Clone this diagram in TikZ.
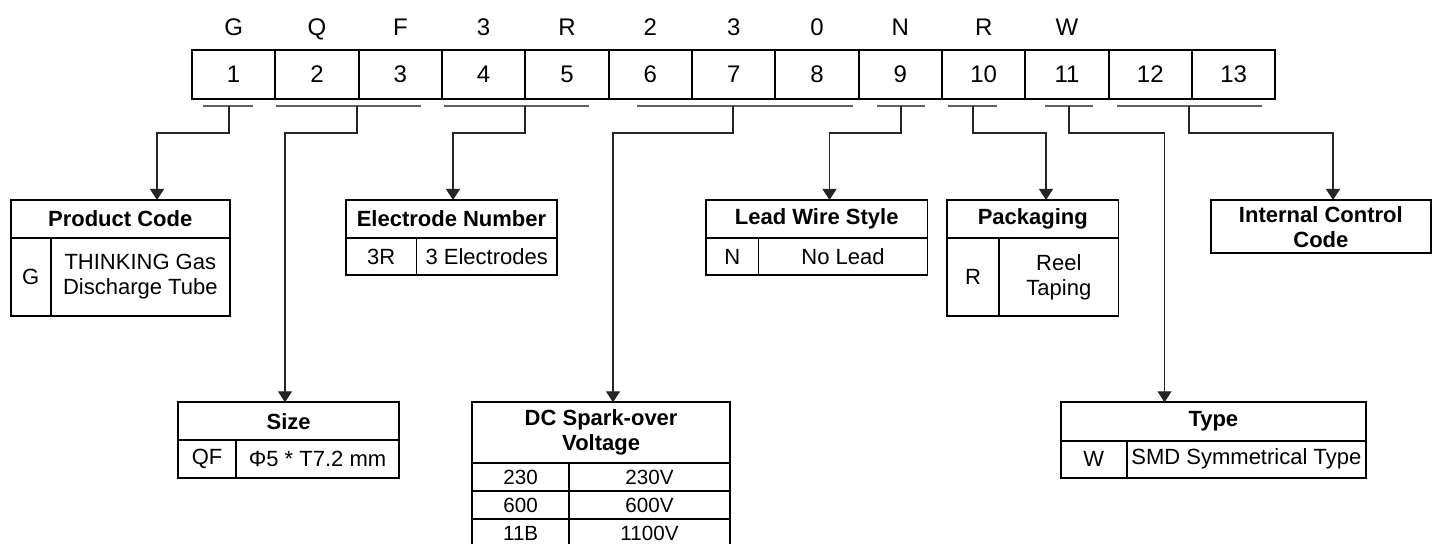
\documentclass[tikz,border=0pt]{standalone}
\usepackage{fontspec}
\setmainfont{Liberation Sans}
\usetikzlibrary{arrows.meta,calc}
\tikzset{
  wh/.style 2 args={minimum width=#1*0.5pt, minimum height=#2*0.5pt},
  tb/.style={draw=black, line width=0.85pt, inner sep=0pt, outer sep=0pt, anchor=north west,
    font=\fontsize{11}{12.5}\selectfont, align=center},
  th/.style={tb, font=\fontsize{11}{12.5}\selectfont\bfseries},
  tbs/.style={tb, font=\fontsize{10.3}{12}\selectfont},
  dig/.style={draw=black, line width=0.85pt, inner sep=0pt, outer sep=0pt, anchor=north west,
    minimum width=41.667pt, minimum height=24.5pt, font=\fontsize{12}{14}\selectfont},
  let/.style={inner sep=0pt, anchor=base, font=\fontsize{12}{14}\selectfont},
  ul/.style={draw=black!62, line width=0.7pt},
  conn/.style={draw=black!85, line width=0.55pt, -{Triangle[width=7pt,length=5.5pt]}},
}
\begin{document}
\begin{tikzpicture}[x=0.5pt,y=-0.5pt]
\useasboundingbox (0,0) rectangle (1434,544);

% top code row
\foreach \i in {1,...,13}
  \node[dig] (c\i) at ({192+(\i-1)*83.333},50) {\i};
\foreach \i/\l in {1/G,2/Q,3/F,4/3,5/R,6/2,7/3,8/0,9/N,10/R,11/W}
  \node[let] (l\i) at ($(c\i.north)+(0,-14.5)$) {\l};

% underlines
\coordinate (u1a) at (203,106);  \coordinate (u1b) at (253,106);  \coordinate (t1) at (229,106);
\coordinate (u2a) at (276,106);  \coordinate (u2b) at (421,106);  \coordinate (t2) at (357,106);
\coordinate (u3a) at (444,106);  \coordinate (u3b) at (589,106);  \coordinate (t3) at (525,106);
\coordinate (u4a) at (637,106);  \coordinate (u4b) at (853,106);  \coordinate (t4) at (733,106);
\coordinate (u5a) at (877,106);  \coordinate (u5b) at (925,106);  \coordinate (t5) at (901,106);
\coordinate (u6a) at (948,106);  \coordinate (u6b) at (997,106);  \coordinate (t6) at (973,106);
\coordinate (u7a) at (1045,106); \coordinate (u7b) at (1093,106); \coordinate (t7) at (1069,106);
\coordinate (u8a) at (1117,106); \coordinate (u8b) at (1262,106); \coordinate (t8) at (1189,106);
\foreach \k in {1,...,8} \draw[ul] (u\k a) -- (u\k b);

% Product Code
\node[th, wh={219}{38}] (pch) at (10.7,200) {Product Code};
\node[tb, wh={40.2}{78}] (pck) at (pch.south west) {G};
\node[tb, wh={178.8}{78}] (pcv) at (pck.north east) {THINKING Gas\\Discharge Tube};

% Electrode Number
\node[th, wh={211}{38}] (elh) at (346,200) {Electrode Number};
\node[tb, wh={70.4}{37}] (elk) at (elh.south west) {3R};
\node[tb, wh={140.6}{37}] (elv) at (elk.north east) {3 Electrodes};

% Lead Wire Style
\node[th, wh={221.5}{38}] (lwh) at (706,200) {Lead Wire Style};
\node[tb, wh={52.6}{37}] (lwk) at (lwh.south west) {N};
\node[tb, wh={168.9}{37}] (lwv) at (lwk.north east) {No Lead};

% Packaging
\node[th, wh={171.6}{38}] (pgh) at (947,200) {Packaging};
\node[tb, wh={52}{78}] (pgk) at (pgh.south west) {R};
\node[tb, wh={119.6}{78}] (pgv) at (pgk.north east) {Reel\\Taping};

% Internal Control Code
\node[th, wh={220.3}{53.3}] (icc) at (1210.7,200) {Internal Control\\Code};

% Size
\node[th, wh={220.7}{37.7}] (szh) at (178.3,402.3) {Size};
\node[tb, wh={57.7}{37.7}] (szk) at (szh.south west) {QF};
\node[tb, wh={163}{37.7}] (szv) at (szk.north east) {Φ5 * T7.2 mm};

% DC Spark-over Voltage
\node[th, wh={257.7}{61}] (dch) at (472.3,402.3) {DC Spark-over\\Voltage};
\node[tbs, wh={96.7}{28}] (dk1) at (dch.south west) {230};
\node[tbs, wh={161}{28}] (dv1) at (dk1.north east) {230V};
\node[tbs, wh={96.7}{28}] (dk2) at (dk1.south west) {600};
\node[tbs, wh={161}{28}] (dv2) at (dk2.north east) {600V};
\node[tbs, wh={96.7}{28}] (dk3) at (dk2.south west) {11B};
\node[tbs, wh={161}{28}] (dv3) at (dk3.north east) {1100V};

% Type
\node[th, wh={305.3}{38.4}] (tyh) at (1060.7,402.3) {Type};
\node[tb, wh={66}{37}] (tyk) at (tyh.south west) {W};
\node[tb, wh={239.3}{37}] (tyv) at (tyk.north east) {SMD Symmetrical Type};

% connectors
\draw[conn] (t1) -- ++(0,27) -| ($(pch.north west)+(146.3,0)$);
\draw[conn] (t2) -- ++(0,27) -| ($(szh.north west)+(106.7,0)$);
\draw[conn] (t3) -- ++(0,27) -| ($(elh.north west)+(107,0)$);
\draw[conn] (t4) -- ++(0,27) -| ($(dch.north west)+(140.7,0)$);
\draw[conn] (t5) -- ++(0,27) -| ($(lwh.north west)+(123.5,0)$);
\draw[conn] (t6) -- ++(0,27) -| ($(pgh.north west)+(99,0)$);
\draw[conn] (t7) -- ++(0,27) -| ($(tyh.north west)+(103.8,0)$);
\draw[conn] (t8) -- ++(0,27) -| ($(icc.north west)+(122.3,0)$);
\end{tikzpicture}
\end{document}
